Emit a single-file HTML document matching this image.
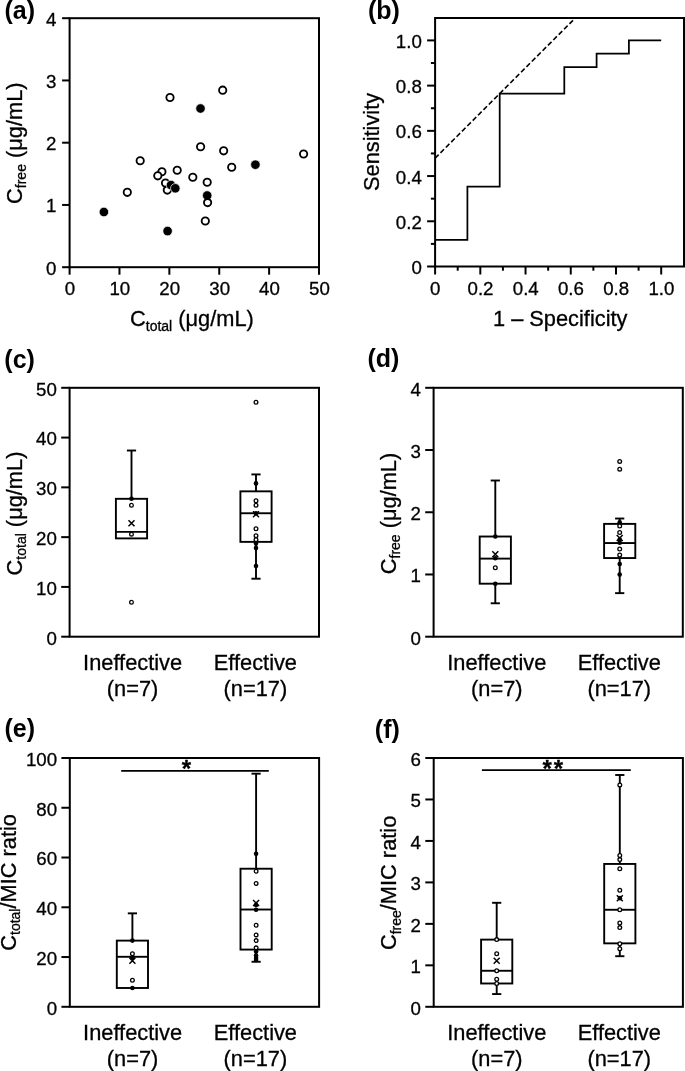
<!DOCTYPE html>
<html><head><meta charset="utf-8"><title>figure</title>
<style>
html,body{margin:0;padding:0;background:#fff;}
svg{display:block;will-change:transform;}
text{font-family:"Liberation Sans", sans-serif;fill:#000;}
</style></head>
<body>
<svg width="685" height="1071" viewBox="0 0 685 1071">
<rect width="685" height="1071" fill="#fff"/>
<g stroke="#000" fill="none" font-family='"Liberation Sans", sans-serif'>
<text fill="#000" stroke="#000" stroke-width="0.3" x="35.00" y="19.00" font-size="25" text-anchor="end" font-weight="bold" style="stroke:none">(a)</text>
<rect x="69.60" y="18.20" width="249.40" height="249.00" fill="none" stroke-width="2.0"/>
<line x1="69.60" y1="267.20" x2="69.60" y2="274.70" stroke-width="2.0"/>
<text fill="#000" stroke="#000" stroke-width="0.3" x="70.00" y="295.20" font-size="18.7" text-anchor="middle">0</text>
<line x1="119.48" y1="267.20" x2="119.48" y2="274.70" stroke-width="2.0"/>
<text fill="#000" stroke="#000" stroke-width="0.3" x="119.88" y="295.20" font-size="18.7" text-anchor="middle">10</text>
<line x1="169.36" y1="267.20" x2="169.36" y2="274.70" stroke-width="2.0"/>
<text fill="#000" stroke="#000" stroke-width="0.3" x="169.76" y="295.20" font-size="18.7" text-anchor="middle">20</text>
<line x1="219.24" y1="267.20" x2="219.24" y2="274.70" stroke-width="2.0"/>
<text fill="#000" stroke="#000" stroke-width="0.3" x="219.64" y="295.20" font-size="18.7" text-anchor="middle">30</text>
<line x1="269.12" y1="267.20" x2="269.12" y2="274.70" stroke-width="2.0"/>
<text fill="#000" stroke="#000" stroke-width="0.3" x="269.52" y="295.20" font-size="18.7" text-anchor="middle">40</text>
<line x1="319.00" y1="267.20" x2="319.00" y2="274.70" stroke-width="2.0"/>
<text fill="#000" stroke="#000" stroke-width="0.3" x="319.40" y="295.20" font-size="18.7" text-anchor="middle">50</text>
<line x1="62.10" y1="267.20" x2="69.60" y2="267.20" stroke-width="2.0"/>
<text fill="#000" stroke="#000" stroke-width="0.3" x="56.40" y="274.60" font-size="18.7" text-anchor="end">0</text>
<line x1="62.10" y1="204.95" x2="69.60" y2="204.95" stroke-width="2.0"/>
<text fill="#000" stroke="#000" stroke-width="0.3" x="56.40" y="212.35" font-size="18.7" text-anchor="end">1</text>
<line x1="62.10" y1="142.70" x2="69.60" y2="142.70" stroke-width="2.0"/>
<text fill="#000" stroke="#000" stroke-width="0.3" x="56.40" y="150.10" font-size="18.7" text-anchor="end">2</text>
<line x1="62.10" y1="80.45" x2="69.60" y2="80.45" stroke-width="2.0"/>
<text fill="#000" stroke="#000" stroke-width="0.3" x="56.40" y="87.85" font-size="18.7" text-anchor="end">3</text>
<line x1="62.10" y1="18.20" x2="69.60" y2="18.20" stroke-width="2.0"/>
<text fill="#000" stroke="#000" stroke-width="0.3" x="56.40" y="25.60" font-size="18.7" text-anchor="end">4</text>
<text fill="#000" stroke="#000" stroke-width="0.3" x="130.0" y="326.3" font-size="21.8">C<tspan font-size="14" dy="4.8">total</tspan><tspan dy="-4.8"> (μg/mL)</tspan></text>
<text fill="#000" stroke="#000" stroke-width="0.3" transform="translate(21.60,143.20) rotate(-90)" text-anchor="middle" font-size="21.8">C<tspan font-size="14" dy="4.5">free</tspan><tspan dy="-4.5"> (μg/mL)</tspan></text>
<g>
<circle cx="170.0" cy="97.5" r="3.65" fill="#fff" stroke="#000" stroke-width="1.85"/>
<circle cx="200.6" cy="146.7" r="3.65" fill="#fff" stroke="#000" stroke-width="1.85"/>
<circle cx="140.2" cy="160.7" r="3.65" fill="#fff" stroke="#000" stroke-width="1.85"/>
<circle cx="161.9" cy="171.7" r="3.65" fill="#fff" stroke="#000" stroke-width="1.85"/>
<circle cx="157.8" cy="175.8" r="3.65" fill="#fff" stroke="#000" stroke-width="1.85"/>
<circle cx="177.2" cy="170.2" r="3.65" fill="#fff" stroke="#000" stroke-width="1.85"/>
<circle cx="192.8" cy="177.2" r="3.65" fill="#fff" stroke="#000" stroke-width="1.85"/>
<circle cx="207.2" cy="182.2" r="3.65" fill="#fff" stroke="#000" stroke-width="1.85"/>
<circle cx="205.3" cy="221.0" r="3.65" fill="#fff" stroke="#000" stroke-width="1.85"/>
<circle cx="222.7" cy="90.2" r="3.65" fill="#fff" stroke="#000" stroke-width="1.85"/>
<circle cx="223.65" cy="150.8" r="3.65" fill="#fff" stroke="#000" stroke-width="1.85"/>
<circle cx="231.7" cy="167.2" r="3.65" fill="#fff" stroke="#000" stroke-width="1.85"/>
<circle cx="303.6" cy="154.0" r="3.65" fill="#fff" stroke="#000" stroke-width="1.85"/>
<circle cx="127.3" cy="192.3" r="3.65" fill="#fff" stroke="#000" stroke-width="1.85"/>
<circle cx="165.5" cy="183.0" r="3.65" fill="#fff" stroke="#000" stroke-width="1.85"/>
<circle cx="167.3" cy="190.1" r="3.65" fill="#fff" stroke="#000" stroke-width="1.85"/>
<circle cx="171.0" cy="185.1" r="4.75" fill="#000" stroke="#fff" stroke-width="0.7"/>
<circle cx="175.3" cy="188.3" r="4.75" fill="#000" stroke="#fff" stroke-width="0.7"/>
<circle cx="200.5" cy="108.5" r="4.75" fill="#000" stroke="#fff" stroke-width="0.7"/>
<circle cx="207.2" cy="195.5" r="4.75" fill="#000" stroke="#fff" stroke-width="0.7"/>
<circle cx="167.6" cy="231.1" r="4.75" fill="#000" stroke="#fff" stroke-width="0.7"/>
<circle cx="255.4" cy="164.7" r="4.75" fill="#000" stroke="#fff" stroke-width="0.7"/>
<circle cx="103.9" cy="212.0" r="4.75" fill="#000" stroke="#fff" stroke-width="0.7"/>
<circle cx="207.6" cy="202.6" r="3.65" fill="#fff" stroke="#000" stroke-width="1.85"/>
</g>
<text fill="#000" stroke="#000" stroke-width="0.3" x="399.80" y="18.80" font-size="25" text-anchor="end" font-weight="bold" style="stroke:none">(b)</text>
<rect x="435.10" y="18.00" width="248.90" height="248.50" fill="none" stroke-width="2.0"/>
<line x1="435.10" y1="266.50" x2="435.10" y2="274.50" stroke-width="2.0"/>
<line x1="427.10" y1="266.50" x2="435.10" y2="266.50" stroke-width="2.0"/>
<text fill="#000" stroke="#000" stroke-width="0.3" x="435.30" y="294.60" font-size="18.7" text-anchor="middle">0</text>
<text fill="#000" stroke="#000" stroke-width="0.3" x="421.80" y="274.10" font-size="18.7" text-anchor="end">0</text>
<line x1="457.71" y1="266.50" x2="457.71" y2="270.70" stroke-width="2.0"/>
<line x1="430.90" y1="243.89" x2="435.10" y2="243.89" stroke-width="2.0"/>
<line x1="480.32" y1="266.50" x2="480.32" y2="274.50" stroke-width="2.0"/>
<line x1="427.10" y1="221.28" x2="435.10" y2="221.28" stroke-width="2.0"/>
<text fill="#000" stroke="#000" stroke-width="0.3" x="480.52" y="294.60" font-size="18.7" text-anchor="middle">0.2</text>
<text fill="#000" stroke="#000" stroke-width="0.3" x="421.80" y="228.88" font-size="18.7" text-anchor="end">0.2</text>
<line x1="502.93" y1="266.50" x2="502.93" y2="270.70" stroke-width="2.0"/>
<line x1="430.90" y1="198.67" x2="435.10" y2="198.67" stroke-width="2.0"/>
<line x1="525.54" y1="266.50" x2="525.54" y2="274.50" stroke-width="2.0"/>
<line x1="427.10" y1="176.06" x2="435.10" y2="176.06" stroke-width="2.0"/>
<text fill="#000" stroke="#000" stroke-width="0.3" x="525.74" y="294.60" font-size="18.7" text-anchor="middle">0.4</text>
<text fill="#000" stroke="#000" stroke-width="0.3" x="421.80" y="183.66" font-size="18.7" text-anchor="end">0.4</text>
<line x1="548.15" y1="266.50" x2="548.15" y2="270.70" stroke-width="2.0"/>
<line x1="430.90" y1="153.45" x2="435.10" y2="153.45" stroke-width="2.0"/>
<line x1="570.76" y1="266.50" x2="570.76" y2="274.50" stroke-width="2.0"/>
<line x1="427.10" y1="130.84" x2="435.10" y2="130.84" stroke-width="2.0"/>
<text fill="#000" stroke="#000" stroke-width="0.3" x="570.96" y="294.60" font-size="18.7" text-anchor="middle">0.6</text>
<text fill="#000" stroke="#000" stroke-width="0.3" x="421.80" y="138.44" font-size="18.7" text-anchor="end">0.6</text>
<line x1="593.37" y1="266.50" x2="593.37" y2="270.70" stroke-width="2.0"/>
<line x1="430.90" y1="108.23" x2="435.10" y2="108.23" stroke-width="2.0"/>
<line x1="615.98" y1="266.50" x2="615.98" y2="274.50" stroke-width="2.0"/>
<line x1="427.10" y1="85.62" x2="435.10" y2="85.62" stroke-width="2.0"/>
<text fill="#000" stroke="#000" stroke-width="0.3" x="616.18" y="294.60" font-size="18.7" text-anchor="middle">0.8</text>
<text fill="#000" stroke="#000" stroke-width="0.3" x="421.80" y="93.22" font-size="18.7" text-anchor="end">0.8</text>
<line x1="638.59" y1="266.50" x2="638.59" y2="270.70" stroke-width="2.0"/>
<line x1="430.90" y1="63.01" x2="435.10" y2="63.01" stroke-width="2.0"/>
<line x1="661.20" y1="266.50" x2="661.20" y2="274.50" stroke-width="2.0"/>
<line x1="427.10" y1="40.40" x2="435.10" y2="40.40" stroke-width="2.0"/>
<text fill="#000" stroke="#000" stroke-width="0.3" x="661.40" y="294.60" font-size="18.7" text-anchor="middle">1.0</text>
<text fill="#000" stroke="#000" stroke-width="0.3" x="421.80" y="48.00" font-size="18.7" text-anchor="end">1.0</text>
<text fill="#000" stroke="#000" stroke-width="0.3" x="560.2" y="325.8" font-size="21.8" text-anchor="middle">1 – Specificity</text>
<text fill="#000" stroke="#000" stroke-width="0.3" transform="translate(379.4,141.9) rotate(-90)" text-anchor="middle" font-size="21.8">Sensitivity</text>
<polyline points="435.10,239.90 467.40,239.90 467.40,186.70 499.70,186.70 499.70,93.60 564.30,93.60 564.30,67.00 596.60,67.00 596.60,53.70 628.90,53.70 628.90,40.40 661.20,40.40" fill="none" stroke-width="1.75" stroke-linejoin="miter"/>
<line x1="435.10" y1="158.20" x2="575.51" y2="17.79" stroke-width="1.6" stroke-dasharray="5,2.6"/>
<text fill="#000" stroke="#000" stroke-width="0.3" x="34.90" y="367.60" font-size="25" text-anchor="end" font-weight="bold" style="stroke:none">(c)</text>
<rect x="69.60" y="387.80" width="249.40" height="248.90" fill="none" stroke-width="2.0"/>
<line x1="61.20" y1="636.70" x2="69.60" y2="636.70" stroke-width="2.0"/>
<text fill="#000" stroke="#000" stroke-width="0.3" x="56.90" y="644.60" font-size="18.7" text-anchor="end">0</text>
<line x1="61.20" y1="586.92" x2="69.60" y2="586.92" stroke-width="2.0"/>
<text fill="#000" stroke="#000" stroke-width="0.3" x="56.90" y="594.82" font-size="18.7" text-anchor="end">10</text>
<line x1="61.20" y1="537.14" x2="69.60" y2="537.14" stroke-width="2.0"/>
<text fill="#000" stroke="#000" stroke-width="0.3" x="56.90" y="545.04" font-size="18.7" text-anchor="end">20</text>
<line x1="61.20" y1="487.36" x2="69.60" y2="487.36" stroke-width="2.0"/>
<text fill="#000" stroke="#000" stroke-width="0.3" x="56.90" y="495.26" font-size="18.7" text-anchor="end">30</text>
<line x1="61.20" y1="437.58" x2="69.60" y2="437.58" stroke-width="2.0"/>
<text fill="#000" stroke="#000" stroke-width="0.3" x="56.90" y="445.48" font-size="18.7" text-anchor="end">40</text>
<line x1="61.20" y1="387.80" x2="69.60" y2="387.80" stroke-width="2.0"/>
<text fill="#000" stroke="#000" stroke-width="0.3" x="56.90" y="395.70" font-size="18.7" text-anchor="end">50</text>
<text fill="#000" stroke="#000" stroke-width="0.3" transform="translate(21.80,513.50) rotate(-90)" text-anchor="middle" font-size="21.8">C<tspan font-size="14" dy="4.5">total</tspan><tspan dy="-4.5"> (μg/mL)</tspan></text>
<line x1="131.50" y1="498.81" x2="131.50" y2="450.52" stroke-width="1.9"/>
<line x1="126.90" y1="450.52" x2="136.10" y2="450.52" stroke-width="1.9"/>
<rect x="115.90" y="498.81" width="31.20" height="39.58" fill="none" stroke-width="1.9"/>
<line x1="115.90" y1="531.91" x2="147.10" y2="531.91" stroke-width="1.9"/>
<circle cx="131.50" cy="498.81" r="2.3" fill="#000" stroke="none"/>
<circle cx="131.50" cy="505.28" r="1.85" fill="#fff" stroke-width="1.3"/>
<circle cx="131.50" cy="534.15" r="1.85" fill="#fff" stroke-width="1.3"/>
<circle cx="131.50" cy="602.20" r="1.85" fill="#fff" stroke-width="1.3"/>
<path d="M128.50,520.20L134.50,526.20M134.50,520.20L128.50,526.20" stroke-width="1.5" fill="none"/>
<line x1="256.00" y1="491.34" x2="256.00" y2="474.42" stroke-width="1.9"/>
<line x1="251.40" y1="474.42" x2="260.60" y2="474.42" stroke-width="1.9"/>
<line x1="256.00" y1="541.87" x2="256.00" y2="578.71" stroke-width="1.9"/>
<line x1="251.40" y1="578.71" x2="260.60" y2="578.71" stroke-width="1.9"/>
<rect x="240.40" y="491.34" width="31.20" height="50.53" fill="none" stroke-width="1.9"/>
<line x1="240.40" y1="513.25" x2="271.60" y2="513.25" stroke-width="1.9"/>
<circle cx="256.00" cy="402.24" r="1.85" fill="#fff" stroke-width="1.3"/>
<circle cx="256.00" cy="483.38" r="2.3" fill="#000" stroke="none"/>
<circle cx="256.00" cy="500.80" r="1.85" fill="#fff" stroke-width="1.3"/>
<circle cx="256.00" cy="505.28" r="1.85" fill="#fff" stroke-width="1.3"/>
<circle cx="256.00" cy="513.25" r="2.3" fill="#000" stroke="none"/>
<circle cx="256.00" cy="528.68" r="1.85" fill="#fff" stroke-width="1.3"/>
<circle cx="256.00" cy="535.65" r="1.85" fill="#fff" stroke-width="1.3"/>
<circle cx="256.00" cy="539.63" r="1.85" fill="#fff" stroke-width="1.3"/>
<circle cx="256.00" cy="543.61" r="2.3" fill="#000" stroke="none"/>
<circle cx="256.00" cy="548.09" r="2.3" fill="#000" stroke="none"/>
<circle cx="256.00" cy="566.01" r="2.3" fill="#000" stroke="none"/>
<path d="M253.00,511.24L259.00,517.24M259.00,511.24L253.00,517.24" stroke-width="1.5" fill="none"/>
<text fill="#000" stroke="#000" stroke-width="0.3" x="132.60" y="669.90" font-size="21.8" text-anchor="middle">Ineffective</text>
<text fill="#000" stroke="#000" stroke-width="0.3" x="132.60" y="695.60" font-size="21.8" text-anchor="middle">(n=7)</text>
<text fill="#000" stroke="#000" stroke-width="0.3" x="255.40" y="669.90" font-size="21.8" text-anchor="middle">Effective</text>
<text fill="#000" stroke="#000" stroke-width="0.3" x="255.40" y="695.60" font-size="21.8" text-anchor="middle">(n=17)</text>
<text fill="#000" stroke="#000" stroke-width="0.3" x="399.40" y="366.80" font-size="25" text-anchor="end" font-weight="bold" style="stroke:none">(d)</text>
<rect x="433.60" y="387.80" width="249.20" height="248.90" fill="none" stroke-width="2.0"/>
<line x1="425.20" y1="636.70" x2="433.60" y2="636.70" stroke-width="2.0"/>
<text fill="#000" stroke="#000" stroke-width="0.3" x="420.90" y="644.60" font-size="18.7" text-anchor="end">0</text>
<line x1="425.20" y1="574.48" x2="433.60" y2="574.48" stroke-width="2.0"/>
<text fill="#000" stroke="#000" stroke-width="0.3" x="420.90" y="582.38" font-size="18.7" text-anchor="end">1</text>
<line x1="425.20" y1="512.25" x2="433.60" y2="512.25" stroke-width="2.0"/>
<text fill="#000" stroke="#000" stroke-width="0.3" x="420.90" y="520.15" font-size="18.7" text-anchor="end">2</text>
<line x1="425.20" y1="450.03" x2="433.60" y2="450.03" stroke-width="2.0"/>
<text fill="#000" stroke="#000" stroke-width="0.3" x="420.90" y="457.93" font-size="18.7" text-anchor="end">3</text>
<line x1="425.20" y1="387.80" x2="433.60" y2="387.80" stroke-width="2.0"/>
<text fill="#000" stroke="#000" stroke-width="0.3" x="420.90" y="395.70" font-size="18.7" text-anchor="end">4</text>
<text fill="#000" stroke="#000" stroke-width="0.3" transform="translate(395.80,513.50) rotate(-90)" text-anchor="middle" font-size="21.8">C<tspan font-size="14" dy="4.5">free</tspan><tspan dy="-4.5"> (μg/mL)</tspan></text>
<line x1="495.30" y1="536.52" x2="495.30" y2="480.52" stroke-width="1.9"/>
<line x1="490.70" y1="480.52" x2="499.90" y2="480.52" stroke-width="1.9"/>
<line x1="495.30" y1="583.68" x2="495.30" y2="603.29" stroke-width="1.9"/>
<line x1="490.70" y1="603.29" x2="499.90" y2="603.29" stroke-width="1.9"/>
<rect x="479.70" y="536.52" width="31.20" height="47.17" fill="none" stroke-width="1.9"/>
<line x1="479.70" y1="558.61" x2="510.90" y2="558.61" stroke-width="1.9"/>
<circle cx="495.30" cy="536.52" r="2.3" fill="#000" stroke="none"/>
<circle cx="495.30" cy="558.30" r="2.3" fill="#000" stroke="none"/>
<circle cx="495.30" cy="567.75" r="1.85" fill="#fff" stroke-width="1.3"/>
<circle cx="495.30" cy="583.81" r="2.3" fill="#000" stroke="none"/>
<path d="M492.30,551.25L498.30,557.25M498.30,551.25L492.30,557.25" stroke-width="1.5" fill="none"/>
<line x1="619.70" y1="523.89" x2="619.70" y2="518.53" stroke-width="1.9"/>
<line x1="615.10" y1="518.53" x2="624.30" y2="518.53" stroke-width="1.9"/>
<line x1="619.70" y1="558.05" x2="619.70" y2="593.14" stroke-width="1.9"/>
<line x1="615.10" y1="593.14" x2="624.30" y2="593.14" stroke-width="1.9"/>
<rect x="604.10" y="523.89" width="31.20" height="34.16" fill="none" stroke-width="1.9"/>
<line x1="604.10" y1="543.05" x2="635.30" y2="543.05" stroke-width="1.9"/>
<circle cx="619.70" cy="461.41" r="1.85" fill="#fff" stroke-width="1.3"/>
<circle cx="619.70" cy="469.13" r="1.85" fill="#fff" stroke-width="1.3"/>
<circle cx="619.70" cy="522.21" r="2.3" fill="#000" stroke="none"/>
<circle cx="619.70" cy="525.94" r="1.85" fill="#fff" stroke-width="1.3"/>
<circle cx="619.70" cy="532.54" r="1.85" fill="#fff" stroke-width="1.3"/>
<circle cx="619.70" cy="539.63" r="2.3" fill="#000" stroke="none"/>
<circle cx="619.70" cy="542.74" r="2.3" fill="#000" stroke="none"/>
<circle cx="619.70" cy="548.96" r="1.85" fill="#fff" stroke-width="1.3"/>
<circle cx="619.70" cy="555.00" r="1.85" fill="#fff" stroke-width="1.3"/>
<circle cx="619.70" cy="564.08" r="2.3" fill="#000" stroke="none"/>
<circle cx="619.70" cy="574.60" r="2.3" fill="#000" stroke="none"/>
<path d="M616.70,534.95L622.70,540.95M622.70,534.95L616.70,540.95" stroke-width="1.5" fill="none"/>
<text fill="#000" stroke="#000" stroke-width="0.3" x="496.80" y="669.90" font-size="21.8" text-anchor="middle">Ineffective</text>
<text fill="#000" stroke="#000" stroke-width="0.3" x="496.80" y="695.60" font-size="21.8" text-anchor="middle">(n=7)</text>
<text fill="#000" stroke="#000" stroke-width="0.3" x="619.30" y="669.90" font-size="21.8" text-anchor="middle">Effective</text>
<text fill="#000" stroke="#000" stroke-width="0.3" x="619.30" y="695.60" font-size="21.8" text-anchor="middle">(n=17)</text>
<text fill="#000" stroke="#000" stroke-width="0.3" x="35.00" y="736.60" font-size="25" text-anchor="end" font-weight="bold" style="stroke:none">(e)</text>
<rect x="69.80" y="758.00" width="249.30" height="248.80" fill="none" stroke-width="2.0"/>
<line x1="61.40" y1="1006.80" x2="69.80" y2="1006.80" stroke-width="2.0"/>
<text fill="#000" stroke="#000" stroke-width="0.3" x="57.10" y="1014.70" font-size="18.7" text-anchor="end">0</text>
<line x1="61.40" y1="957.04" x2="69.80" y2="957.04" stroke-width="2.0"/>
<text fill="#000" stroke="#000" stroke-width="0.3" x="57.10" y="964.94" font-size="18.7" text-anchor="end">20</text>
<line x1="61.40" y1="907.28" x2="69.80" y2="907.28" stroke-width="2.0"/>
<text fill="#000" stroke="#000" stroke-width="0.3" x="57.10" y="915.18" font-size="18.7" text-anchor="end">40</text>
<line x1="61.40" y1="857.52" x2="69.80" y2="857.52" stroke-width="2.0"/>
<text fill="#000" stroke="#000" stroke-width="0.3" x="57.10" y="865.42" font-size="18.7" text-anchor="end">60</text>
<line x1="61.40" y1="807.76" x2="69.80" y2="807.76" stroke-width="2.0"/>
<text fill="#000" stroke="#000" stroke-width="0.3" x="57.10" y="815.66" font-size="18.7" text-anchor="end">80</text>
<line x1="61.40" y1="758.00" x2="69.80" y2="758.00" stroke-width="2.0"/>
<text fill="#000" stroke="#000" stroke-width="0.3" x="57.10" y="765.90" font-size="18.7" text-anchor="end">100</text>
<text fill="#000" stroke="#000" stroke-width="0.3" transform="translate(15.8,882.4) rotate(-90)" text-anchor="middle" font-size="21.8">C<tspan font-size="14" dy="4.5">total</tspan><tspan dy="-4.5">/MIC ratio</tspan></text>
<line x1="132.40" y1="940.62" x2="132.40" y2="913.35" stroke-width="1.9"/>
<line x1="127.80" y1="913.35" x2="137.00" y2="913.35" stroke-width="1.9"/>
<rect x="116.80" y="940.62" width="31.20" height="47.37" fill="none" stroke-width="1.9"/>
<line x1="116.80" y1="956.79" x2="148.00" y2="956.79" stroke-width="1.9"/>
<circle cx="132.40" cy="940.62" r="2.3" fill="#000" stroke="none"/>
<circle cx="132.40" cy="953.81" r="1.85" fill="#fff" stroke-width="1.3"/>
<circle cx="132.40" cy="957.79" r="2.3" fill="#000" stroke="none"/>
<circle cx="132.40" cy="980.18" r="1.85" fill="#fff" stroke-width="1.3"/>
<circle cx="132.40" cy="987.99" r="2.3" fill="#000" stroke="none"/>
<path d="M129.40,957.77L135.40,963.77M135.40,957.77L129.40,963.77" stroke-width="1.5" fill="none"/>
<line x1="256.10" y1="868.72" x2="256.10" y2="773.67" stroke-width="1.9"/>
<line x1="251.50" y1="773.67" x2="260.70" y2="773.67" stroke-width="1.9"/>
<line x1="256.10" y1="949.58" x2="256.10" y2="961.77" stroke-width="1.9"/>
<line x1="251.50" y1="961.77" x2="260.70" y2="961.77" stroke-width="1.9"/>
<rect x="240.50" y="868.72" width="31.20" height="80.86" fill="none" stroke-width="1.9"/>
<line x1="240.50" y1="909.52" x2="271.70" y2="909.52" stroke-width="1.9"/>
<circle cx="256.10" cy="853.79" r="2.3" fill="#000" stroke="none"/>
<circle cx="256.10" cy="871.20" r="1.85" fill="#fff" stroke-width="1.3"/>
<circle cx="256.10" cy="883.40" r="1.85" fill="#fff" stroke-width="1.3"/>
<circle cx="256.10" cy="905.04" r="2.3" fill="#000" stroke="none"/>
<circle cx="256.10" cy="909.77" r="2.3" fill="#000" stroke="none"/>
<circle cx="256.10" cy="925.19" r="1.85" fill="#fff" stroke-width="1.3"/>
<circle cx="256.10" cy="934.90" r="1.85" fill="#fff" stroke-width="1.3"/>
<circle cx="256.10" cy="940.62" r="1.85" fill="#fff" stroke-width="1.3"/>
<circle cx="256.10" cy="947.83" r="1.85" fill="#fff" stroke-width="1.3"/>
<circle cx="256.10" cy="951.57" r="2.3" fill="#000" stroke="none"/>
<circle cx="256.10" cy="955.55" r="2.3" fill="#000" stroke="none"/>
<circle cx="256.10" cy="958.04" r="2.3" fill="#000" stroke="none"/>
<circle cx="256.10" cy="960.03" r="2.3" fill="#000" stroke="none"/>
<path d="M253.10,900.05L259.10,906.05M259.10,900.05L253.10,906.05" stroke-width="1.5" fill="none"/>
<line x1="121.20" y1="770.90" x2="268.80" y2="770.90" stroke-width="1.75"/>
<text fill="#000" stroke="#000" stroke-width="0.3" x="186.40" y="777.30" font-size="24" text-anchor="middle" font-weight="bold">*</text>
<text fill="#000" stroke="#000" stroke-width="0.3" x="132.60" y="1040.30" font-size="21.8" text-anchor="middle">Ineffective</text>
<text fill="#000" stroke="#000" stroke-width="0.3" x="132.60" y="1065.90" font-size="21.8" text-anchor="middle">(n=7)</text>
<text fill="#000" stroke="#000" stroke-width="0.3" x="255.40" y="1040.30" font-size="21.8" text-anchor="middle">Effective</text>
<text fill="#000" stroke="#000" stroke-width="0.3" x="255.40" y="1065.90" font-size="21.8" text-anchor="middle">(n=17)</text>
<text fill="#000" stroke="#000" stroke-width="0.3" x="399.80" y="737.80" font-size="25" text-anchor="end" font-weight="bold" style="stroke:none">(f)</text>
<rect x="433.70" y="758.00" width="249.20" height="248.80" fill="none" stroke-width="2.0"/>
<line x1="425.30" y1="1006.80" x2="433.70" y2="1006.80" stroke-width="2.0"/>
<text fill="#000" stroke="#000" stroke-width="0.3" x="421.00" y="1014.70" font-size="18.7" text-anchor="end">0</text>
<line x1="425.30" y1="965.33" x2="433.70" y2="965.33" stroke-width="2.0"/>
<text fill="#000" stroke="#000" stroke-width="0.3" x="421.00" y="973.23" font-size="18.7" text-anchor="end">1</text>
<line x1="425.30" y1="923.87" x2="433.70" y2="923.87" stroke-width="2.0"/>
<text fill="#000" stroke="#000" stroke-width="0.3" x="421.00" y="931.77" font-size="18.7" text-anchor="end">2</text>
<line x1="425.30" y1="882.40" x2="433.70" y2="882.40" stroke-width="2.0"/>
<text fill="#000" stroke="#000" stroke-width="0.3" x="421.00" y="890.30" font-size="18.7" text-anchor="end">3</text>
<line x1="425.30" y1="840.93" x2="433.70" y2="840.93" stroke-width="2.0"/>
<text fill="#000" stroke="#000" stroke-width="0.3" x="421.00" y="848.83" font-size="18.7" text-anchor="end">4</text>
<line x1="425.30" y1="799.47" x2="433.70" y2="799.47" stroke-width="2.0"/>
<text fill="#000" stroke="#000" stroke-width="0.3" x="421.00" y="807.37" font-size="18.7" text-anchor="end">5</text>
<line x1="425.30" y1="758.00" x2="433.70" y2="758.00" stroke-width="2.0"/>
<text fill="#000" stroke="#000" stroke-width="0.3" x="421.00" y="765.90" font-size="18.7" text-anchor="end">6</text>
<text fill="#000" stroke="#000" stroke-width="0.3" transform="translate(396.0,882.9) rotate(-90)" text-anchor="middle" font-size="21.8">C<tspan font-size="14" dy="4.5">free</tspan><tspan dy="-4.5">/MIC ratio</tspan></text>
<line x1="496.70" y1="939.62" x2="496.70" y2="902.80" stroke-width="1.9"/>
<line x1="492.10" y1="902.80" x2="501.30" y2="902.80" stroke-width="1.9"/>
<line x1="496.70" y1="983.50" x2="496.70" y2="994.07" stroke-width="1.9"/>
<line x1="492.10" y1="994.07" x2="501.30" y2="994.07" stroke-width="1.9"/>
<rect x="481.10" y="939.62" width="31.20" height="43.87" fill="none" stroke-width="1.9"/>
<line x1="481.10" y1="970.77" x2="512.30" y2="970.77" stroke-width="1.9"/>
<circle cx="496.70" cy="939.62" r="1.85" fill="#fff" stroke-width="1.3"/>
<circle cx="496.70" cy="953.81" r="1.85" fill="#fff" stroke-width="1.3"/>
<circle cx="496.70" cy="970.77" r="1.85" fill="#fff" stroke-width="1.3"/>
<circle cx="496.70" cy="979.27" r="1.85" fill="#fff" stroke-width="1.3"/>
<circle cx="496.70" cy="983.50" r="1.85" fill="#fff" stroke-width="1.3"/>
<path d="M493.70,957.81L499.70,963.81M499.70,957.81L493.70,963.81" stroke-width="1.5" fill="none"/>
<line x1="619.80" y1="863.95" x2="619.80" y2="775.00" stroke-width="1.9"/>
<line x1="615.20" y1="775.00" x2="624.40" y2="775.00" stroke-width="1.9"/>
<line x1="619.80" y1="943.36" x2="619.80" y2="956.21" stroke-width="1.9"/>
<line x1="615.20" y1="956.21" x2="624.40" y2="956.21" stroke-width="1.9"/>
<rect x="604.20" y="863.95" width="31.20" height="79.41" fill="none" stroke-width="1.9"/>
<line x1="604.20" y1="909.77" x2="635.40" y2="909.77" stroke-width="1.9"/>
<circle cx="619.80" cy="784.95" r="1.85" fill="#fff" stroke-width="1.3"/>
<circle cx="619.80" cy="855.45" r="1.85" fill="#fff" stroke-width="1.3"/>
<circle cx="619.80" cy="859.59" r="1.85" fill="#fff" stroke-width="1.3"/>
<circle cx="619.80" cy="868.72" r="1.85" fill="#fff" stroke-width="1.3"/>
<circle cx="619.80" cy="890.28" r="1.85" fill="#fff" stroke-width="1.3"/>
<circle cx="619.80" cy="898.16" r="2.3" fill="#000" stroke="none"/>
<circle cx="619.80" cy="909.77" r="1.85" fill="#fff" stroke-width="1.3"/>
<circle cx="619.80" cy="923.04" r="1.85" fill="#fff" stroke-width="1.3"/>
<circle cx="619.80" cy="927.60" r="1.85" fill="#fff" stroke-width="1.3"/>
<circle cx="619.80" cy="943.77" r="1.85" fill="#fff" stroke-width="1.3"/>
<circle cx="619.80" cy="948.75" r="1.85" fill="#fff" stroke-width="1.3"/>
<path d="M616.80,895.16L622.80,901.16M622.80,895.16L616.80,901.16" stroke-width="1.5" fill="none"/>
<line x1="481.90" y1="770.00" x2="630.80" y2="770.00" stroke-width="1.75"/>
<text fill="#000" stroke="#000" stroke-width="0.3" x="542.5" y="777.2" font-size="24" font-weight="bold" text-anchor="start" letter-spacing="1.9">**</text>
<text fill="#000" stroke="#000" stroke-width="0.3" x="496.80" y="1040.30" font-size="21.8" text-anchor="middle">Ineffective</text>
<text fill="#000" stroke="#000" stroke-width="0.3" x="496.80" y="1065.90" font-size="21.8" text-anchor="middle">(n=7)</text>
<text fill="#000" stroke="#000" stroke-width="0.3" x="619.30" y="1040.30" font-size="21.8" text-anchor="middle">Effective</text>
<text fill="#000" stroke="#000" stroke-width="0.3" x="619.30" y="1065.90" font-size="21.8" text-anchor="middle">(n=17)</text>
</g>
</svg>
</body></html>
